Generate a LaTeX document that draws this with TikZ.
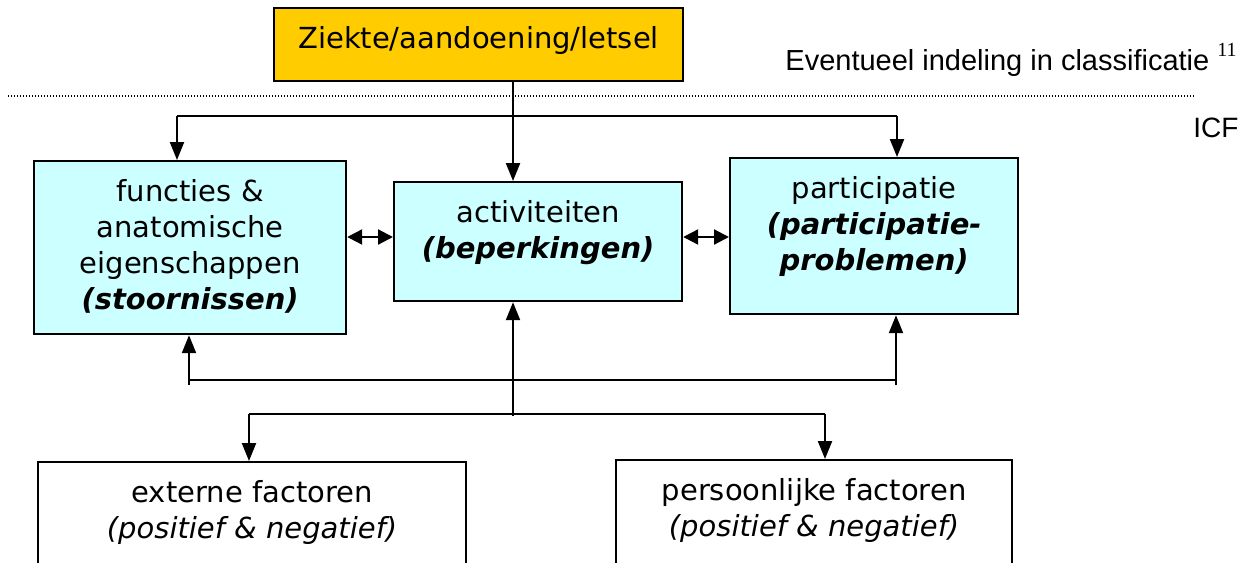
\documentclass[tikz,border=0pt]{standalone}
\usepackage{fontspec}
\setmainfont{DejaVu Sans}
\newfontfamily\arialfont{Liberation Sans}
\newfontfamily\timesfont{Liberation Serif}
\usetikzlibrary{arrows.meta}

\definecolor{ziektegeel}{HTML}{FFCC00}
\definecolor{icfblauw}{HTML}{CCFFFF}

% text van een vak: bovenaan, gecentreerd
\newcommand{\vaktekst}[3]{\parbox[c][#2][t]{#1}{\centering\vspace*{7.5pt}\strut#3}}

\tikzset{
  vak/.style={draw, line width=1.1pt, inner sep=0pt, anchor=north west,
    font=\fontsize{14.5}{18}\selectfont},
  icfvak/.style={vak, fill=icfblauw},
  lijn/.style={line width=1.1pt},
  pijl/.style={lijn, -{Triangle[length=9pt,width=7pt]}},
  dubbelpijl/.style={lijn, {Triangle[length=7.5pt,width=7.5pt]}-{Triangle[length=7.5pt,width=7.5pt]}}
}

\begin{document}
\begin{tikzpicture}[x=0.5pt,y=0.5pt]
\useasboundingbox (0,0) rectangle (1247,-562);

% bovenste deel
\node[vak, fill=ziektegeel] (ziekte) at (273,-7) {\vaktekst{204.5pt}{36.5pt}{Ziekte/aandoening/letsel}};
\node[anchor=base west, inner sep=0pt, font=\arialfont\fontsize{14.5}{17}\selectfont] (eventueel) at (785,-70)
  {Eventueel indeling in classificatie {\timesfont\fontsize{10}{12}\selectfont\raisebox{7pt}{11}}};
\node[anchor=base west, inner sep=0pt, font=\arialfont\fontsize{14}{17}\selectfont] (icf) at (1193,-137) {ICF};
\draw[line width=0.6pt, dash pattern=on 0.6pt off 0.9pt] (8,-96) -- (1195,-96);

% ICF componenten
\node[icfvak] (functies) at (33,-160) {\vaktekst{156pt}{86.5pt}{functies \&\\anatomische\\eigenschappen\\\textbf{\textit{(stoornissen)}}}};
\node[icfvak] (activ) at (393,-181) {\vaktekst{144pt}{59.5pt}{activiteiten\\\textbf{\textit{(beperkingen)}}}};
\node[icfvak] (partic) at (729,-157) {\vaktekst{144pt}{78pt}{participatie\\\textbf{\textit{(participatie-\\problemen)}}}};

% contextuele factoren
\node[vak] (extern) at (37,-461) {\vaktekst{214pt}{100pt}{externe factoren\\\textit{(positief \& negatief)}}};
\node[vak] (persoon) at (615,-459) {\vaktekst{198pt}{100pt}{persoonlijke factoren\\\textit{(positief \& negatief)}}};

% verbindingen boven
\coordinate (bovensplit) at (513,-116);
\coordinate (bovenlinks) at (177,-116);
\coordinate (bovenrechts) at (897,-116);
\draw[pijl] (ziekte.south -| bovensplit) -- (activ.north -| bovensplit);
\draw[lijn] (bovenlinks) -- (bovenrechts);
\draw[pijl] (bovenlinks) -- (bovenlinks |- functies.north);
\draw[pijl] (bovenrechts) -- (bovenrechts |- partic.north);

\draw[dubbelpijl] (functies.east |- 0,-237) -- (activ.west |- 0,-237);
\draw[dubbelpijl] (activ.east |- 0,-237) -- (partic.west |- 0,-237);

% verbindingen onder
\coordinate (onderlijn) at (0,-380);
\coordinate (onderlinks) at (189,-385);
\coordinate (onderrechts) at (896,-385);
\draw[lijn] (onderlinks |- onderlijn) -- (onderrechts |- onderlijn);
\draw[pijl] (onderlinks) -- (onderlinks |- functies.south);
\draw[pijl] (onderrechts) -- (onderrechts |- partic.south);

\coordinate (ondersplit) at (513,-416);
\coordinate (factorlinks) at (249,-414);
\coordinate (factorrechts) at (825,-414);
\draw[pijl] (ondersplit) -- (ondersplit |- activ.south);
\draw[lijn] (factorlinks) -- (factorrechts);
\draw[pijl] (factorlinks) -- (factorlinks |- extern.north);
\draw[pijl] (factorrechts) -- (factorrechts |- persoon.north);
\end{tikzpicture}
\end{document}
